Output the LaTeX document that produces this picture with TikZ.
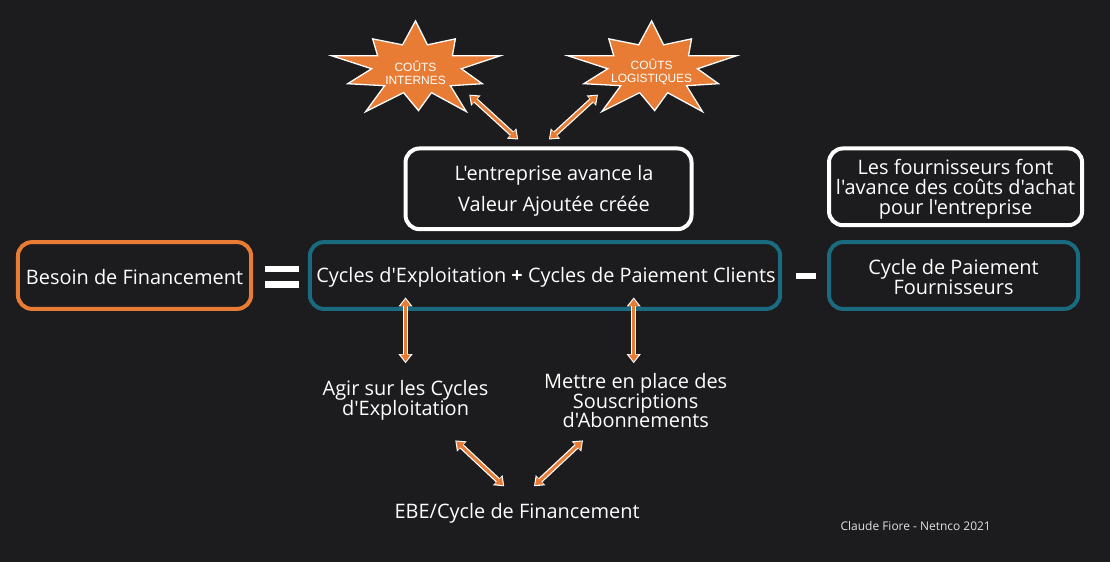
\documentclass[tikz,border=0pt]{standalone}
\usepackage{fontspec}
\setmainfont{Open Sans}[Ligatures=TeXOff]
\newfontfamily\starfont{Liberation Sans}
\usetikzlibrary{arrows.meta}
\definecolor{bg}{RGB}{28,27,29}
\definecolor{orng}{RGB}{232,124,53}
\definecolor{teal}{RGB}{27,107,128}
\tikzset{
  box/.style={draw, line width=4pt, rounded corners=14pt, fill=bg, text=white, align=center, inner sep=0pt, font=\fontsize{20}{21}\selectfont},
  obox/.style={box, draw=orng},
  tbox/.style={box, draw=teal},
  wbox/.style={box, draw=white},
  lbl/.style={text=white, align=center, font=\fontsize{20}{20}\selectfont, inner sep=0pt},
  burst/.style={fill=orng, draw=white, line width=1.3pt, line join=miter},
  bursttext/.style={text=white, align=center, font=\starfont\fontsize{12}{13.5}\selectfont, inner sep=0pt},
  arr/.style={line width=3pt, draw=orng, {Triangle[length=7pt,width=9.5pt]}-{Triangle[length=7pt,width=9.5pt]},
    preaction={draw=white, line width=5.5pt, {Triangle[length=9pt,width=13.5pt]}-{Triangle[length=9pt,width=13.5pt]}, shorten <=-1.5pt, shorten >=-1.5pt}}
}
\newcommand{\burstpath}{(0,-45) -- (12,-21) -- (40,-27) -- (37,-10) -- (85,-10) -- (46,3) -- (67,18) -- (35,20) -- (51,46) -- (16,27) -- (3,45) -- (-12,27) -- (-50,46) -- (-31,20) -- (-68,18) -- (-44,3) -- (-84,-10) -- (-38,-10) -- (-43,-27) -- (-13,-21) -- cycle}
\begin{document}
\begin{tikzpicture}[x=1pt,y=-1pt]
\fill[bg] (-2,-2) rectangle (1112,562);
\useasboundingbox (0,0) rectangle (1110,560);

% stars
\draw[burst, shift={(415,64)}] \burstpath;
\draw[burst, shift={(652,64)}] \burstpath;
\node[bursttext] (s1) at (415,71) {COÛTS\\INTERNES};
\node[bursttext] (s2) at (652,70) {COÛTS\\LOGISTIQUES};

% boxes
\node[obox, minimum width=234pt, minimum height=67pt] (bf) at (133,274.5) {};
\node[lbl] (bft) at (133,276) {Besoin de Financement};
\node[tbox, minimum width=472pt, minimum height=67pt] (cy) at (545,274.5) {};
\node[lbl] (cyt) at (546,276) {Cycles d'Exploitation \textbf{+} Cycles de Paiement Clients};
\node[tbox, minimum width=250pt, minimum height=67pt] (cf) at (955,274.5) {};
\node[lbl, font=\fontsize{20}{21}\selectfont] (cft) at (955,276) {Cycle de Paiement\\Fournisseurs};
\node[wbox, minimum width=287pt, minimum height=81pt] (va) at (548.5,187.5) {};
\node[lbl, font=\fontsize{20}{32}\selectfont] (vat) at (554,189.5) {L'entreprise avance la\\Valeur Ajoutée créée};
\node[wbox, minimum width=254pt, minimum height=77pt] (fo) at (957,185.5) {};
\node[lbl] (fot) at (957,188) {Les fournisseurs font\\l'avance des coûts d'achat\\pour l'entreprise};

% operators
\node[fill=white, minimum width=34pt, minimum height=6.5pt, inner sep=0pt] (eq1) at (281,268) {};
\node[fill=white, minimum width=34pt, minimum height=6.5pt, inner sep=0pt] (eq2) at (281,283.5) {};
\node[fill=white, minimum width=20pt, minimum height=6.5pt, inner sep=0pt] (minus) at (807,275) {};

% labels
\node[lbl] (ag) at (405,400) {Agir sur les Cycles\\d'Exploitation};
\node[lbl] (me) at (636,400) {Mettre en place des\\Souscriptions\\d'Abonnements};
\node[lbl] (ebe) at (517,513) {EBE/Cycle de Financement};
\node[text=white!88!black, font=\fontsize{12}{14}\selectfont, inner sep=0pt] (cr) at (917,526) {Claude Fiore - Netnco 2021};

% arrow end coordinates
\coordinate (a1s) at (470,94); \coordinate (a1e) at (517,137);
\coordinate (a2s) at (597,94); \coordinate (a2e) at (550,137);
\coordinate (a3s) at (405,298); \coordinate (a3e) at (405,361);
\coordinate (a4s) at (634,298); \coordinate (a4e) at (634,361);
\coordinate (a5s) at (456,441); \coordinate (a5e) at (503,485);
\coordinate (a6s) at (582,441); \coordinate (a6e) at (535,485);

\draw[arr] (a1s) -- (a1e);
\draw[arr] (a2s) -- (a2e);
\draw[arr] (a3s) -- (a3e);
\draw[arr] (a4s) -- (a4e);
\draw[arr] (a5s) -- (a5e);
\draw[arr] (a6s) -- (a6e);
\end{tikzpicture}
\end{document}
